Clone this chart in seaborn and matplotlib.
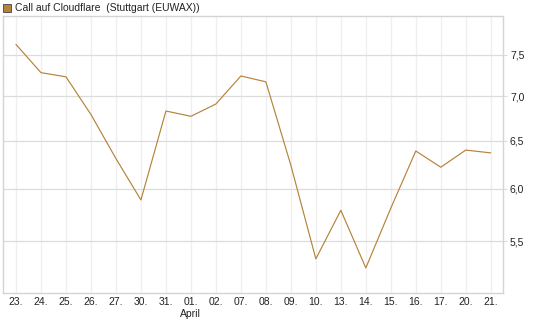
import matplotlib
matplotlib.use("Agg")
import matplotlib.pyplot as plt
from matplotlib.patches import Rectangle
from matplotlib.ticker import FixedLocator, NullLocator, FixedFormatter
import pandas as pd
import seaborn as sns

# data
dates = ["23.", "24.", "25.", "26.", "27.", "30.", "31.", "01.", "02.", "07.",
         "08.", "09.", "10.", "13.", "14.", "15.", "16.", "17.", "20.", "21."]
prices = [7.63, 7.28, 7.23, 6.79, 6.31, 5.89, 6.83, 6.77, 6.91, 7.24,
          7.17, 6.24, 5.34, 5.79, 5.26, 5.81, 6.39, 6.22, 6.40, 6.37]
y_ticks = [5.5, 6.0, 6.5, 7.0, 7.5]
y_labels = ["5,5", "6,0", "6,5", "7,0", "7,5"]
month_label = "April"
month_pos = 7  # "01." starts April

df = pd.DataFrame({"idx": range(len(dates)), "price": prices})

sns.set_style("white")
plt.rcParams["font.family"] = ["Liberation Sans", "DejaVu Sans"]

line_col = "#b5833c"
fig = plt.figure(figsize=(5.45, 3.27), dpi=100)
ax = fig.add_axes([3 / 545, 34 / 327, 500 / 545, 277 / 327])

sns.lineplot(data=df, x="idx", y="price", ax=ax, color=line_col, linewidth=0.85)

ax.set_yscale("log")
ax.set_ylim(5.045, 8.0)
ax.set_xlim(-0.52, 19.49)

ax.yaxis.set_major_locator(FixedLocator(y_ticks))
ax.yaxis.set_major_formatter(FixedFormatter(y_labels))
ax.yaxis.set_minor_locator(NullLocator())
ax.yaxis.tick_right()
ax.tick_params(axis="y", which="major", length=3, color="#dcdcdc", labelsize=7.5,
               pad=2, labelcolor="#222222")

ax.set_xticks(range(len(dates)))
ax.set_xticklabels(dates)
ax.tick_params(axis="x", length=0, labelsize=7.5, pad=3, labelcolor="#222222")

ax.grid(axis="y", color="#dcdcdc", linewidth=0.9)
ax.grid(axis="x", color="#efefef", linewidth=0.9)
ax.set_axisbelow(True)

for s in ax.spines.values():
    s.set_color("#d4d4d4")
    s.set_linewidth(1.0)
    s.set_visible(True)

ax.set_xlabel("")
ax.set_ylabel("")

ax.text(month_pos, -16 / 277, month_label, transform=ax.get_xaxis_transform(),
        ha="center", va="top", fontsize=7.5, color="#222222")

# legend-style header
fig.patches.append(Rectangle((3 / 545, 1 - 12 / 327), 8 / 545, 8 / 327,
                             transform=fig.transFigure, facecolor=line_col,
                             edgecolor="#555555", linewidth=0.7))
fig.text(15 / 545, 1 - 8 / 327, "Call auf Cloudflare  (Stuttgart (EUWAX))",
         ha="left", va="center", fontsize=7.5, color="#222222")

fig.savefig("out.png", dpi=100)
